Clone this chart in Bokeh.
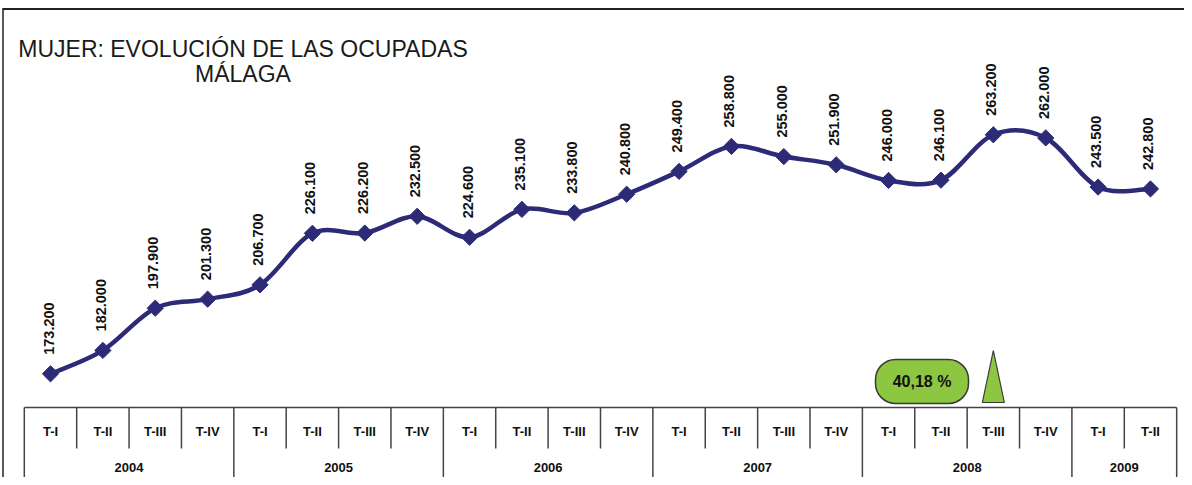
import numpy as np
from bokeh.plotting import figure
from bokeh.models import Range1d
from bokeh.core.properties import value
from bokeh.embed import file_html
from bokeh.resources import INLINE

# ---------------- data ----------------
title_line1 = "MUJER: EVOLUCIÓN DE LAS OCUPADAS"
title_line2 = "MÁLAGA"
years = ["2004", "2005", "2006", "2007", "2008", "2009"]
quarters_per_year = [4, 4, 4, 4, 4, 2]
quarter_names = ["T-I", "T-II", "T-III", "T-IV"]
ocupadas = [173200, 182000, 197900, 201300, 206700, 226100, 226200, 232500,
            224600, 235100, 233800, 240800, 249400, 258800, 255000, 251900,
            246000, 246100, 263200, 262000, 243500, 242800]
variacion_label = "40,18 %"
variacion_index = 18  # T-III 2008

# ---------------- geometry helpers (pixel -> data) ----------------
W, H = 1184, 477
X_SPACING = 52.38
X0_PX = 50.0
Y_PX_PER_UNIT = 2.656 / 1000.0
REF_VAL = 173200.0
REF_PX = 373.3


def xd(px):
    return (px - X0_PX) / X_SPACING


def yd(py):
    return REF_VAL + (REF_PX - py) / Y_PX_PER_UNIT


LINE_COLOR = "#2D2B77"
GREEN = "#8DC641"
FONT = value("Liberation Sans")

p = figure(width=W, height=H,
           x_range=Range1d(xd(0), xd(W)), y_range=Range1d(yd(H), yd(0)),
           output_backend="svg", toolbar_location=None,
           x_axis_location=None, y_axis_location=None,
           min_border=0, min_border_left=0, min_border_right=0,
           min_border_top=0, min_border_bottom=0,
           outline_line_color=None,
           background_fill_color="white", border_fill_color="white")
p.grid.visible = False

n = len(ocupadas)
xs = np.arange(n, dtype=float)
ys = np.array(ocupadas, dtype=float)

# ---------------- frame borders ----------------
p.segment(x0=[xd(2)], x1=[xd(W)], y0=[yd(8.5)], y1=[yd(8.5)], line_color="#222222", line_width=2)
p.segment(x0=[xd(2.5)], x1=[xd(2.5)], y0=[yd(8)], y1=[yd(H)], line_color="#222222", line_width=1.5)

# ---------------- smoothed line (bezier from data) ----------------
bx0, by0, bx1, by1, cx0, cy0, cx1, cy1 = ([] for _ in range(8))
for i in range(n - 1):
    a = i - 1 if i > 0 else i
    d = i + 2 if i + 2 < n else i + 1
    bx0.append(xs[i]); by0.append(ys[i])
    bx1.append(xs[i + 1]); by1.append(ys[i + 1])
    cx0.append(xs[i] + (xs[i + 1] - xs[a]) / 6.0)
    cy0.append(ys[i] + (ys[i + 1] - ys[a]) / 6.0)
    cx1.append(xs[i + 1] - (xs[d] - xs[i]) / 6.0)
    cy1.append(ys[i + 1] - (ys[d] - ys[i]) / 6.0)
p.bezier(x0=bx0, y0=by0, x1=bx1, y1=by1, cx0=cx0, cy0=cy0, cx1=cx1, cy1=cy1,
         line_color=LINE_COLOR, line_width=4.5, line_cap="round")

p.scatter(xs, ys, marker="square", size=11.5, angle=np.pi / 4,
          fill_color=LINE_COLOR, line_color=LINE_COLOR)

labels = [f"{v:,}".replace(",", ".") for v in ocupadas]
p.text(x=xs - 2 / X_SPACING, y=ys + 19 / Y_PX_PER_UNIT, text=labels,
       angle=np.pi / 2, text_align="left", text_baseline="middle",
       text_font=FONT, text_font_style="bold", text_font_size="14.5px",
       text_color="#111111")

# ---------------- title ----------------
p.text(x=[xd(242.5), xd(242.5)], y=[yd(48.3), yd(73.5)],
       text=[title_line1, title_line2], text_align="center",
       text_baseline="alphabetic", text_font=FONT, text_font_size="23px",
       text_color="#1a1a1a")

# ---------------- category table ----------------
TOP, MID = 407, 448
p.segment(x0=[-0.5], x1=[n - 0.5], y0=[yd(TOP)], y1=[yd(TOP)],
          line_color="#444444", line_width=1.5)
year_bounds = list(np.cumsum([0] + quarters_per_year))
vx, vy0, vy1 = [], [], []
for k in range(n + 1):
    vx.append(k - 0.5)
    vy0.append(yd(TOP))
    vy1.append(yd(H) if k in year_bounds else yd(MID))
p.segment(x0=vx, x1=vx, y0=vy0, y1=vy1, line_color="#444444", line_width=1.5)

q_labels = []
for cnt in quarters_per_year:
    q_labels += quarter_names[:cnt]
p.text(x=xs, y=[yd(431)] * n, text=q_labels, text_align="center",
       text_baseline="middle", text_font=FONT, text_font_style="bold",
       text_font_size="13px", text_color="#111111")

year_x = [(year_bounds[j] + year_bounds[j + 1] - 1) / 2.0 for j in range(len(years))]
p.text(x=year_x, y=[yd(467)] * len(years), text=years, text_align="center",
       text_baseline="middle", text_font=FONT, text_font_style="bold",
       text_font_size="13px", text_color="#111111")

# ---------------- variation badge and triangle ----------------
p.quad(left=[xd(875)], right=[xd(968)], top=[yd(359)], bottom=[yd(403)],
       fill_color=GREEN, line_color="#3a3a3a", line_width=1.5, border_radius=20)
p.text(x=[xd(921.5)], y=[yd(381)], text=[variacion_label], text_align="center",
       text_baseline="middle", text_font=FONT, text_font_style="bold",
       text_font_size="16px", text_color="#111111")
p.patch(x=[variacion_index - 0.21, variacion_index, variacion_index + 0.21],
        y=[yd(402), yd(350), yd(402)], fill_color=GREEN,
        line_color="#3a3a3a", line_width=1.2)

open("out.html", "w").write(file_html(p, INLINE))
